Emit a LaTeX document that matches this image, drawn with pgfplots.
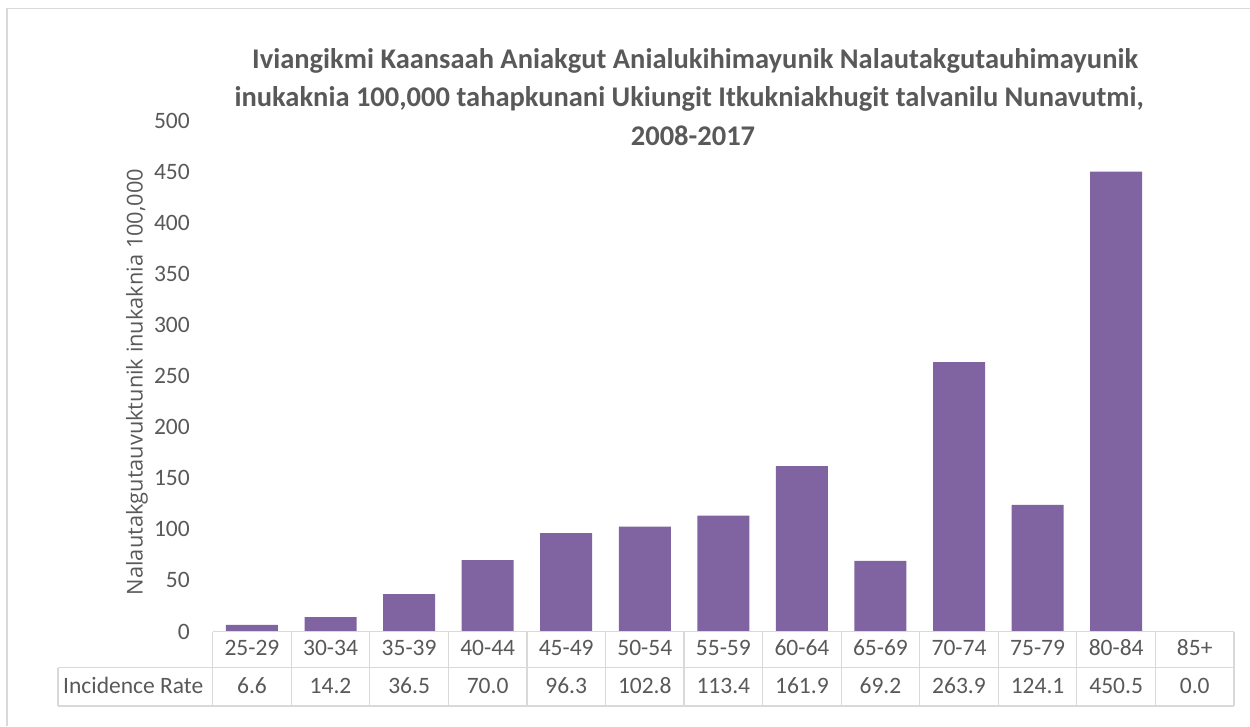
\documentclass[border=0pt]{standalone}
\usepackage{fontspec}
\setmainfont{Carlito}
\newfontfamily\labfont{Open Sans}
\usepackage{pgfplots}
\pgfplotsset{compat=1.18}
\definecolor{barc}{HTML}{8064A2}
\definecolor{txt}{HTML}{595959}
\definecolor{grid}{HTML}{D9D9D9}
\begin{document}
\begin{tikzpicture}[x=1pt,y=1pt]
\useasboundingbox (0,0) rectangle (1250,726);
\fill[white] (0,0) rectangle (1250,726);
\draw[grid, line width=1.5pt] (7,0) -- (7,717.5) -- (1250,717.5);
\begin{axis}[
  at={(212.7pt,94.5pt)}, anchor=south west,
  width=1021.3pt, height=510.5pt, scale only axis,
  xmin=-0.5, xmax=12.5, ymin=0, ymax=500,
  ytick={0,50,...,500},
  xtick={0,...,12},
  xticklabels={25-29,30-34,35-39,40-44,45-49,50-54,55-59,60-64,65-69,70-74,75-79,80-84,85+},
  axis line style={draw=none},
  major tick length=0pt,
  tick style={draw=none},
  yticklabel style={font=\fontsize{23.5}{28}\selectfont, text=txt, anchor=east, inner sep=0pt, xshift=-22.7pt},
  xticklabel style={font=\fontsize{23.5}{28}\selectfont, text=txt, anchor=base, inner sep=0pt, yshift=-23.5pt},
  /pgf/number format/assume math mode=true,
  clip=false,
]
\addplot[ybar, bar width=52pt, fill=barc, draw=none] coordinates {
(0,6.6) (1,14.2) (2,36.5) (3,70.0) (4,96.3) (5,102.8) (6,113.4) (7,161.9) (8,69.2) (9,263.9) (10,124.1) (11,450.5) (12,0.0)};
\end{axis}
% data table
\begin{scope}[grid, line width=1.2pt]
\draw (212.7,94.5) -- (1234,94.5);
\draw (58,58.3) -- (1234,58.3);
\draw (58,20) -- (1234,20);
\draw (58,58.3) -- (58,20);
\foreach \k in {0,...,13} {
  \draw ({212.7+\k*78.56},94.5) -- ({212.7+\k*78.56},20);
}
\end{scope}
\node[anchor=base west, inner sep=0pt, text=txt, font=\fontsize{23.5}{28}\selectfont] at (63,33) {Incidence Rate};
\foreach \v [count=\i from 0] in {6.6,14.2,36.5,70.0,96.3,102.8,113.4,161.9,69.2,263.9,124.1,450.5,0.0} {
  \node[anchor=base, inner sep=0pt, text=txt, font=\fontsize{23.5}{28}\selectfont] at ({212.7+(\i+0.5)*78.56},33) {\v};
}
% y label
\node[rotate=90, text=txt, inner sep=0pt, font=\labfont\fontsize{21.8}{26}\selectfont] at (137,344) {Nalautakgutauvuktunik inukaknia 100,000};
% title
\begin{scope}[every node/.style={anchor=base, inner sep=0pt, text=txt, font=\fontsize{28.5}{34}\selectfont\bfseries}]
\node at (695,657) {Iviangikmi Kaansaah Aniakgut Anialukihimayunik Nalautakgutauhimayunik};
\node at (689,619) {inukaknia 100,000 tahapkunani Ukiungit Itkukniakhugit talvanilu Nunavutmi,};
\node at (693,580) {2008-2017};
\end{scope}
\end{tikzpicture}
\end{document}
